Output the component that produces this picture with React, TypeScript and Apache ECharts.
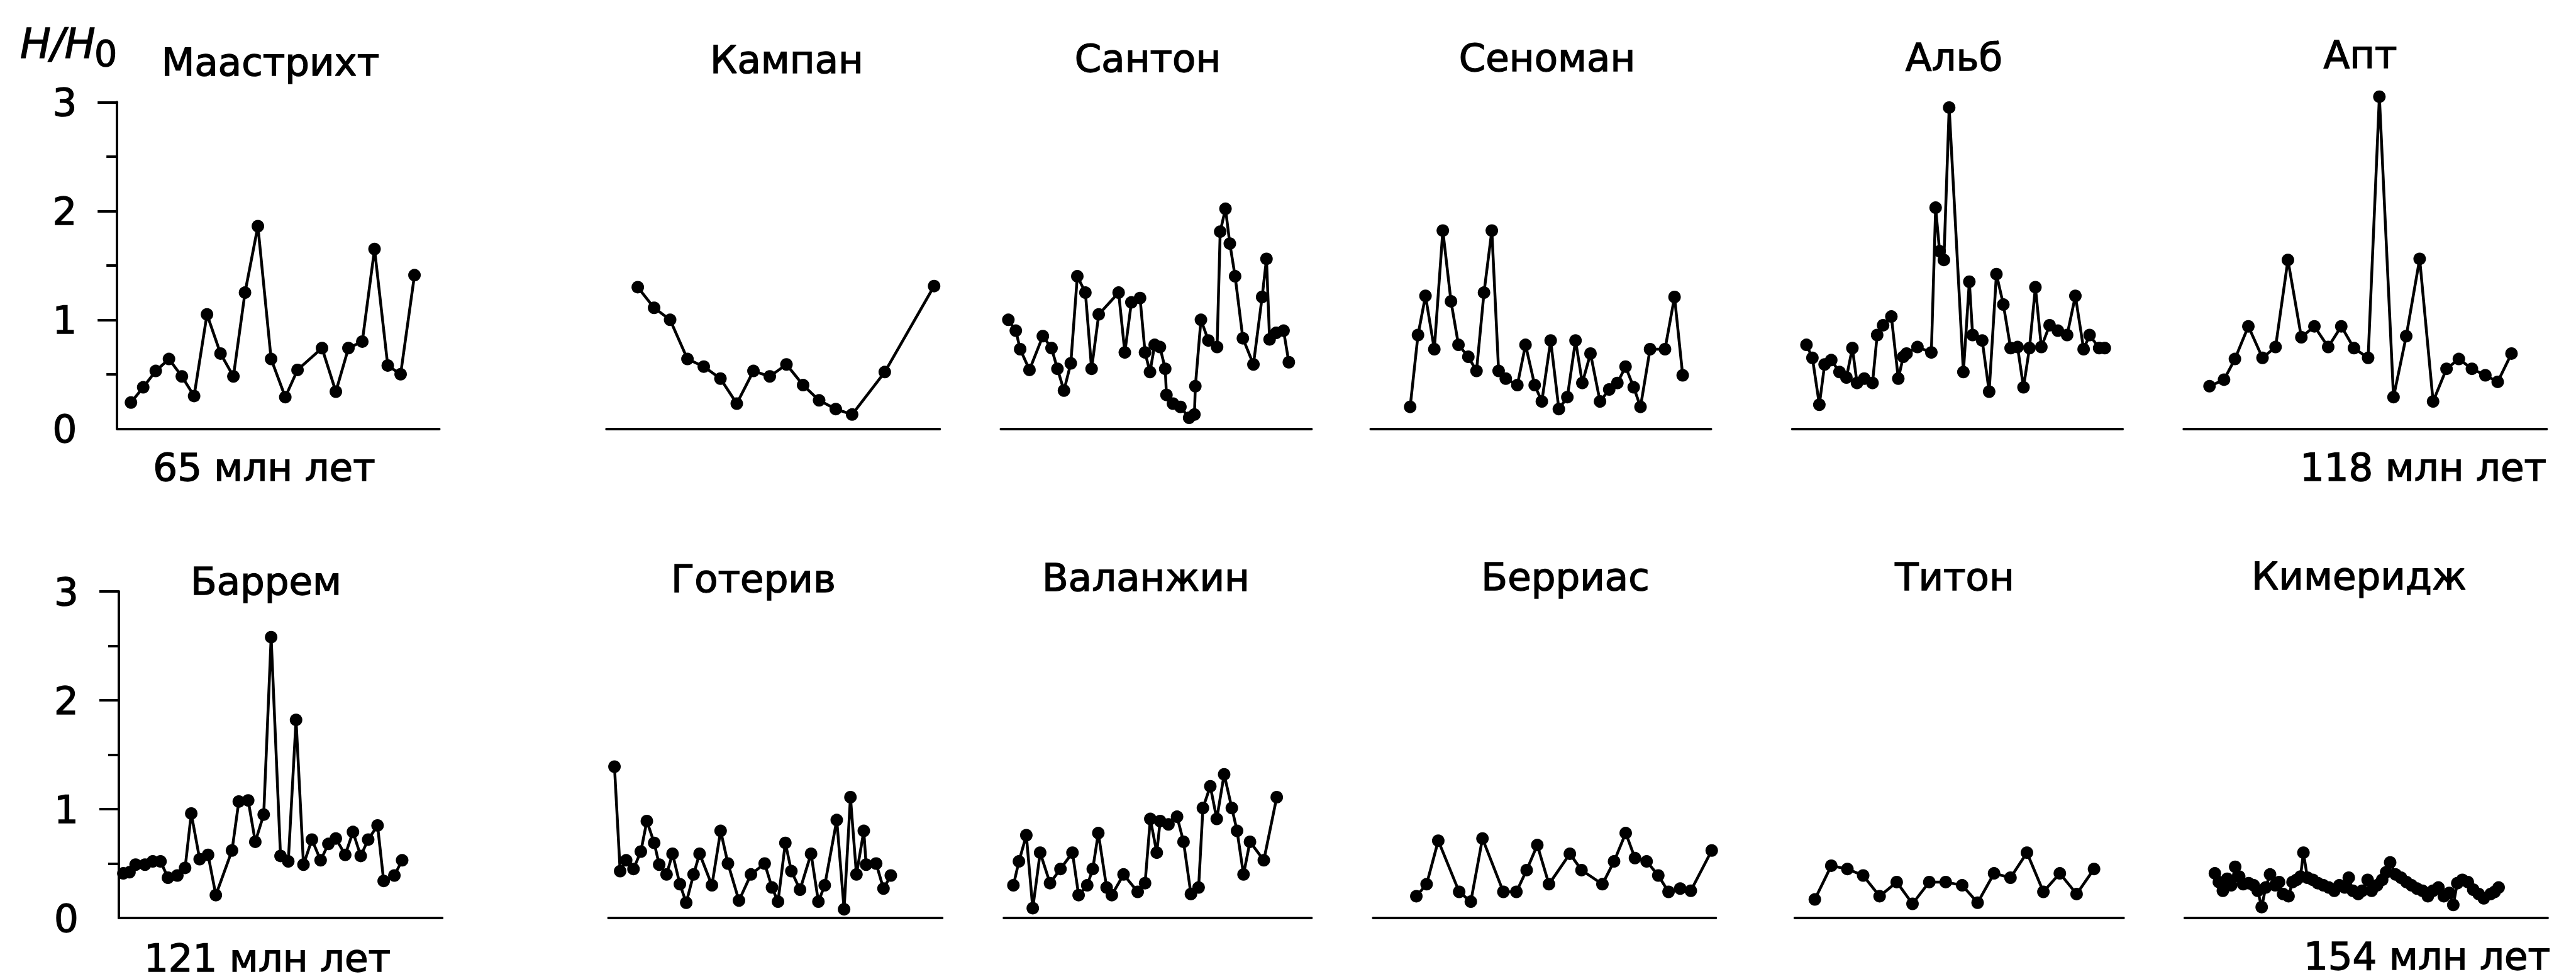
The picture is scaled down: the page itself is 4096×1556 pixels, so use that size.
import React, { useEffect, useRef } from "react";
import * as echarts from "echarts";

// Page size and shared font
const PAGE_W = 4096;
const PAGE_H = 1556;
const FONT = "'DejaVu Sans', sans-serif";

// Stage names (titles of the twelve small plots)
const stageNames = [
  "Маастрихт", "Кампан", "Сантон", "Сеноман", "Альб", "Апт",
  "Баррем", "Готерив", "Валанжин", "Берриас", "Титон", "Кимеридж",
];

// Y-axis tick labels
const yTicks = [0, 1, 2, 3];

// Sample positions within each stage (0–100) and relative field H/H0
const maastrichtX = [4.3, 8.1, 12.0, 16.1, 20.1, 23.9, 27.9, 32.1, 36.1, 39.7, 43.7, 47.8, 52.2, 56.0, 63.6, 67.9, 71.8, 76.1, 79.9, 84.0, 88.0, 92.3];
const maastrichtY = [0.24, 0.38, 0.53, 0.64, 0.48, 0.30, 1.05, 0.69, 0.48, 1.25, 1.86, 0.64, 0.29, 0.54, 0.74, 0.34, 0.74, 0.80, 1.65, 0.58, 0.50, 1.41];

const campanX = [9.4, 14.3, 19.1, 24.3, 29.2, 34.2, 39.1, 44.1, 49.0, 54.0, 59.0, 63.8, 68.8, 73.7, 83.5, 98.3];
const campanY = [1.30, 1.11, 1.00, 0.64, 0.57, 0.46, 0.23, 0.53, 0.48, 0.59, 0.40, 0.26, 0.18, 0.13, 0.52, 1.31];

const santonX = [2.4, 4.8, 6.2, 9.2, 13.5, 16.3, 18.2, 20.3, 22.5, 24.6, 27.2, 29.2, 31.5, 37.9, 39.9, 42.0, 44.8, 46.4, 48.0, 49.5, 51.2, 52.9, 53.3, 55.4, 57.8, 60.6, 62.3, 62.6, 64.4, 66.8, 69.6, 70.6, 72.3, 73.7, 75.4, 77.9, 81.3, 84.1, 85.5, 86.5, 88.6, 91.0, 92.7];
const santonY = [1.00, 0.90, 0.73, 0.54, 0.85, 0.74, 0.55, 0.35, 0.60, 1.40, 1.25, 0.55, 1.05, 1.25, 0.70, 1.16, 1.20, 0.70, 0.52, 0.77, 0.75, 0.55, 0.31, 0.23, 0.20, 0.10, 0.13, 0.39, 1.00, 0.81, 0.75, 1.81, 2.02, 1.70, 1.40, 0.83, 0.59, 1.21, 1.56, 0.82, 0.88, 0.90, 0.61];

const cenomanX = [11.6, 13.9, 16.1, 18.7, 21.2, 23.6, 25.8, 28.7, 31.1, 33.3, 35.6, 37.6, 39.7, 43.1, 45.5, 48.2, 50.3, 52.9, 55.3, 57.8, 60.2, 62.2, 64.6, 67.4, 70.1, 72.5, 74.9, 77.3, 79.3, 82.1, 86.5, 89.3, 91.7];
const cenomanY = [0.20, 0.86, 1.22, 0.73, 1.82, 1.17, 0.77, 0.66, 0.53, 1.25, 1.82, 0.53, 0.46, 0.40, 0.77, 0.40, 0.25, 0.81, 0.18, 0.29, 0.81, 0.42, 0.69, 0.25, 0.36, 0.42, 0.57, 0.38, 0.20, 0.73, 0.73, 1.21, 0.49];

const albX = [4.3, 6.1, 8.2, 9.8, 11.8, 14.3, 16.4, 18.2, 19.6, 21.8, 24.3, 25.7, 27.5, 30.0, 32.1, 33.6, 34.6, 37.9, 42.1, 43.4, 44.6, 45.9, 47.5, 51.8, 53.6, 54.6, 57.5, 59.6, 61.8, 63.9, 66.1, 68.2, 70.0, 71.8, 73.6, 75.4, 77.9, 80.4, 83.2, 85.7, 88.2, 90.0, 92.9, 94.6];
const albY = [0.77, 0.65, 0.22, 0.59, 0.63, 0.52, 0.47, 0.74, 0.42, 0.46, 0.42, 0.86, 0.95, 1.03, 0.46, 0.66, 0.69, 0.75, 0.70, 2.03, 1.63, 1.55, 2.95, 0.52, 1.35, 0.86, 0.81, 0.34, 1.42, 1.14, 0.74, 0.75, 0.38, 0.74, 1.30, 0.75, 0.95, 0.90, 0.86, 1.22, 0.73, 0.86, 0.74, 0.74];

const aptX = [7.1, 11.1, 14.1, 17.8, 21.7, 25.3, 28.7, 32.4, 36.0, 39.8, 43.4, 46.9, 50.8, 53.9, 57.8, 61.3, 65.0, 68.7, 72.4, 75.8, 79.4, 83.1, 86.5, 90.3];
const aptY = [0.39, 0.45, 0.64, 0.94, 0.65, 0.75, 1.55, 0.84, 0.94, 0.75, 0.94, 0.74, 0.65, 3.05, 0.29, 0.85, 1.56, 0.25, 0.55, 0.64, 0.55, 0.49, 0.43, 0.69];

const barremX = [1.4, 3.3, 5.2, 8.1, 10.5, 12.9, 15.2, 18.1, 20.5, 22.4, 25.0, 27.6, 30.0, 35.0, 37.1, 40.0, 42.2, 44.8, 47.1, 50.0, 52.4, 54.8, 57.1, 59.7, 62.4, 64.8, 67.1, 70.0, 72.4, 74.8, 77.1, 80.0, 81.9, 85.2, 87.6];
const barremY = [0.41, 0.42, 0.49, 0.49, 0.52, 0.52, 0.37, 0.39, 0.46, 0.96, 0.54, 0.58, 0.21, 0.62, 1.07, 1.08, 0.70, 0.95, 2.58, 0.57, 0.52, 1.82, 0.49, 0.72, 0.53, 0.68, 0.73, 0.58, 0.79, 0.57, 0.72, 0.85, 0.34, 0.39, 0.53];

const hauterivX = [1.8, 3.5, 5.3, 7.5, 9.7, 11.5, 13.7, 15.2, 17.4, 19.2, 21.4, 23.3, 25.5, 27.3, 31.0, 33.6, 35.8, 39.1, 42.7, 46.8, 49.0, 50.8, 53.0, 54.8, 57.4, 60.7, 62.9, 64.8, 68.4, 70.6, 72.5, 74.3, 76.5, 77.2, 80.2, 82.4, 84.6];
const hauterivY = [1.39, 0.43, 0.53, 0.45, 0.61, 0.89, 0.69, 0.49, 0.40, 0.59, 0.31, 0.14, 0.40, 0.59, 0.30, 0.80, 0.50, 0.16, 0.40, 0.50, 0.28, 0.15, 0.69, 0.43, 0.26, 0.59, 0.15, 0.30, 0.90, 0.08, 1.11, 0.40, 0.80, 0.49, 0.50, 0.27, 0.39];

const valanginX = [3.1, 4.9, 7.3, 9.4, 11.8, 15.0, 18.4, 22.3, 24.3, 27.1, 28.9, 30.7, 33.4, 35.1, 38.9, 43.5, 45.9, 47.6, 49.7, 50.8, 53.5, 56.3, 58.4, 60.8, 63.3, 64.7, 67.1, 69.2, 71.6, 74.1, 75.8, 77.9, 80.0, 84.5, 88.7];
const valanginY = [0.30, 0.52, 0.76, 0.09, 0.60, 0.32, 0.45, 0.60, 0.21, 0.30, 0.45, 0.78, 0.28, 0.21, 0.40, 0.24, 0.32, 0.91, 0.60, 0.89, 0.86, 0.93, 0.70, 0.22, 0.28, 1.01, 1.21, 0.91, 1.32, 1.01, 0.80, 0.40, 0.70, 0.53, 1.11];

const berriasX = [12.6, 15.6, 19.0, 25.1, 28.5, 31.9, 38.0, 41.8, 44.8, 47.9, 51.3, 57.4, 60.8, 66.9, 70.3, 73.7, 76.4, 79.8, 83.2, 86.2, 89.6, 92.7, 98.8];
const berriasY = [0.20, 0.31, 0.71, 0.24, 0.15, 0.73, 0.24, 0.24, 0.44, 0.67, 0.31, 0.59, 0.44, 0.31, 0.52, 0.78, 0.55, 0.52, 0.39, 0.24, 0.27, 0.25, 0.62];

const tithonX = [6.1, 11.1, 16.0, 20.8, 25.8, 31.0, 35.8, 40.9, 45.9, 50.9, 55.6, 60.6, 65.6, 70.6, 75.6, 80.6, 85.7, 91.0];
const tithonY = [0.17, 0.48, 0.45, 0.39, 0.20, 0.33, 0.13, 0.33, 0.33, 0.30, 0.14, 0.41, 0.37, 0.60, 0.24, 0.41, 0.22, 0.45];

const kimmeridgeX = [8.3, 9.4, 10.5, 11.7, 12.8, 13.9, 15.0, 16.1, 17.6, 19.0, 20.1, 21.2, 22.3, 23.5, 24.9, 26.0, 27.1, 28.6, 29.7, 30.8, 31.9, 32.7, 33.8, 35.3, 36.7, 38.2, 39.7, 41.2, 42.6, 44.1, 45.2, 46.3, 47.8, 48.9, 50.4, 51.5, 53.0, 54.4, 55.5, 56.6, 58.1, 59.6, 61.1, 62.5, 64.0, 65.5, 67.0, 68.4, 69.9, 71.4, 72.9, 74.0, 75.1, 76.5, 78.0, 79.5, 81.0, 82.4, 84.3, 85.4, 86.5];
const kimmeridgeY = [0.41, 0.33, 0.25, 0.36, 0.30, 0.47, 0.38, 0.31, 0.32, 0.30, 0.25, 0.10, 0.28, 0.40, 0.30, 0.33, 0.22, 0.20, 0.33, 0.35, 0.38, 0.60, 0.37, 0.35, 0.32, 0.30, 0.28, 0.25, 0.30, 0.28, 0.37, 0.25, 0.22, 0.25, 0.35, 0.25, 0.30, 0.35, 0.42, 0.51, 0.40, 0.37, 0.33, 0.30, 0.27, 0.25, 0.20, 0.25, 0.28, 0.20, 0.23, 0.12, 0.32, 0.35, 0.33, 0.26, 0.22, 0.18, 0.22, 0.24, 0.28];

// Age marks under the corner plots
const ageLabels = ["65 млн лет", "118 млн лет", "121 млн лет", "154 млн лет"];

const stageXs = [maastrichtX, campanX, santonX, cenomanX, albX, aptX, barremX, hauterivX, valanginX, berriasX, tithonX, kimmeridgeX];
const stageYs = [maastrichtY, campanY, santonY, cenomanY, albY, aptY, barremY, hauterivY, valanginY, berriasY, tithonY, kimmeridgeY];

// Layout of the plot areas (page pixels)
const rowTop = [162.3, 940.0];
const plotHeight = 519;
const plotLeft = [186.2, 964.3, 1591.5, 2179.5, 2849.8, 3472.3, 188.9, 967.5, 1596.2, 2183.4, 2853.8, 3473.9];
const plotWidth = [512.3, 530, 493.9, 541, 525.3, 577.1, 514.3, 530.7, 489.2, 544.9, 522.9, 577];
const titlePos = [
  [430, 98], [1251, 94], [1825, 92.5], [2460, 91], [3107, 90], [3753, 86],
  [423, 923], [1198, 919], [1822, 917], [2489, 916], [3108, 916], [3751, 915],
];
const agePos = [[420, 742.5], [3853, 742.5], [425, 1522], [3859, 1519]];

const INK = "#000";
const TEXT_WEIGHT = 1.4;

function buildOption(): echarts.EChartsOption {
  const n = stageNames.length;
  const grid = [];
  const xAxis = [];
  const yAxis = [];
  const series = [];
  for (let i = 0; i < n; i++) {
    const withScale = i === 0 || i === 6;
    grid.push({
      left: plotLeft[i],
      top: rowTop[i < 6 ? 0 : 1],
      width: plotWidth[i],
      height: plotHeight,
      containLabel: false,
    });
    xAxis.push({
      type: "value",
      gridIndex: i,
      min: 0,
      max: 100,
      axisLine: { show: true, onZero: false, lineStyle: { color: INK, width: 4 } },
      axisTick: { show: false },
      axisLabel: { show: false },
      splitLine: { show: false },
    });
    yAxis.push({
      type: "value",
      gridIndex: i,
      min: yTicks[0],
      max: yTicks[yTicks.length - 1],
      interval: 1,
      show: withScale,
      axisLine: { show: true, lineStyle: { color: INK, width: 4 } },
      axisTick: {
        show: true,
        length: 31,
        customValues: yTicks.slice(1),
        lineStyle: { color: INK, width: 4 },
      },
      minorTick: { show: true, splitNumber: 2, length: 17, lineStyle: { color: INK, width: 4 } },
      axisLabel: {
        show: true,
        color: INK,
        fontFamily: FONT,
        fontSize: 61,
        margin: 64,
        textBorderColor: INK,
        textBorderWidth: TEXT_WEIGHT,
      },
      splitLine: { show: false },
      minorSplitLine: { show: false },
    });
    series.push({
      type: "line",
      name: stageNames[i],
      xAxisIndex: i,
      yAxisIndex: i,
      data: stageXs[i].map((x, j) => [x, stageYs[i][j]]),
      symbol: "circle",
      symbolSize: 20,
      showSymbol: true,
      clip: false,
      silent: true,
      lineStyle: { color: INK, width: 4.5 },
      itemStyle: { color: INK },
    });
  }

  const textEl = (text: string, x: number, y: number, size = 61, extra: any = {}) => ({
    type: "text",
    x,
    y,
    silent: true,
    style: {
      text,
      fill: INK,
      stroke: INK,
      lineWidth: TEXT_WEIGHT,
      fontFamily: FONT,
      fontSize: size,
      align: "center",
      verticalAlign: "middle",
      ...extra,
    },
  });

  const graphic: any[] = [];
  stageNames.forEach((name, i) => graphic.push(textEl(name, titlePos[i][0], titlePos[i][1])));
  ageLabels.forEach((t, i) => graphic.push(textEl(t, agePos[i][0], agePos[i][1])));
  // Axis name H/H0 with a lowered zero
  graphic.push(textEl("H/H", 32, 69, 65, { align: "left", fontStyle: "italic" }));
  graphic.push(textEl("0", 150, 86, 57, { align: "left" }));

  return {
    animation: false,
    backgroundColor: "#fff",
    grid,
    xAxis,
    yAxis,
    series,
    graphic,
  } as any;
}

export default function App() {
  const ref = useRef<HTMLDivElement>(null);
  useEffect(() => {
    if (!ref.current) return;
    const chart = echarts.init(ref.current, undefined, { renderer: "svg" });
    chart.setOption(buildOption());
    return () => chart.dispose();
  }, []);
  return (
    <div
      ref={ref}
      style={{
        position: "fixed",
        left: 0,
        top: 0,
        width: PAGE_W,
        height: PAGE_H,
        background: "#fff",
      }}
    />
  );
}
